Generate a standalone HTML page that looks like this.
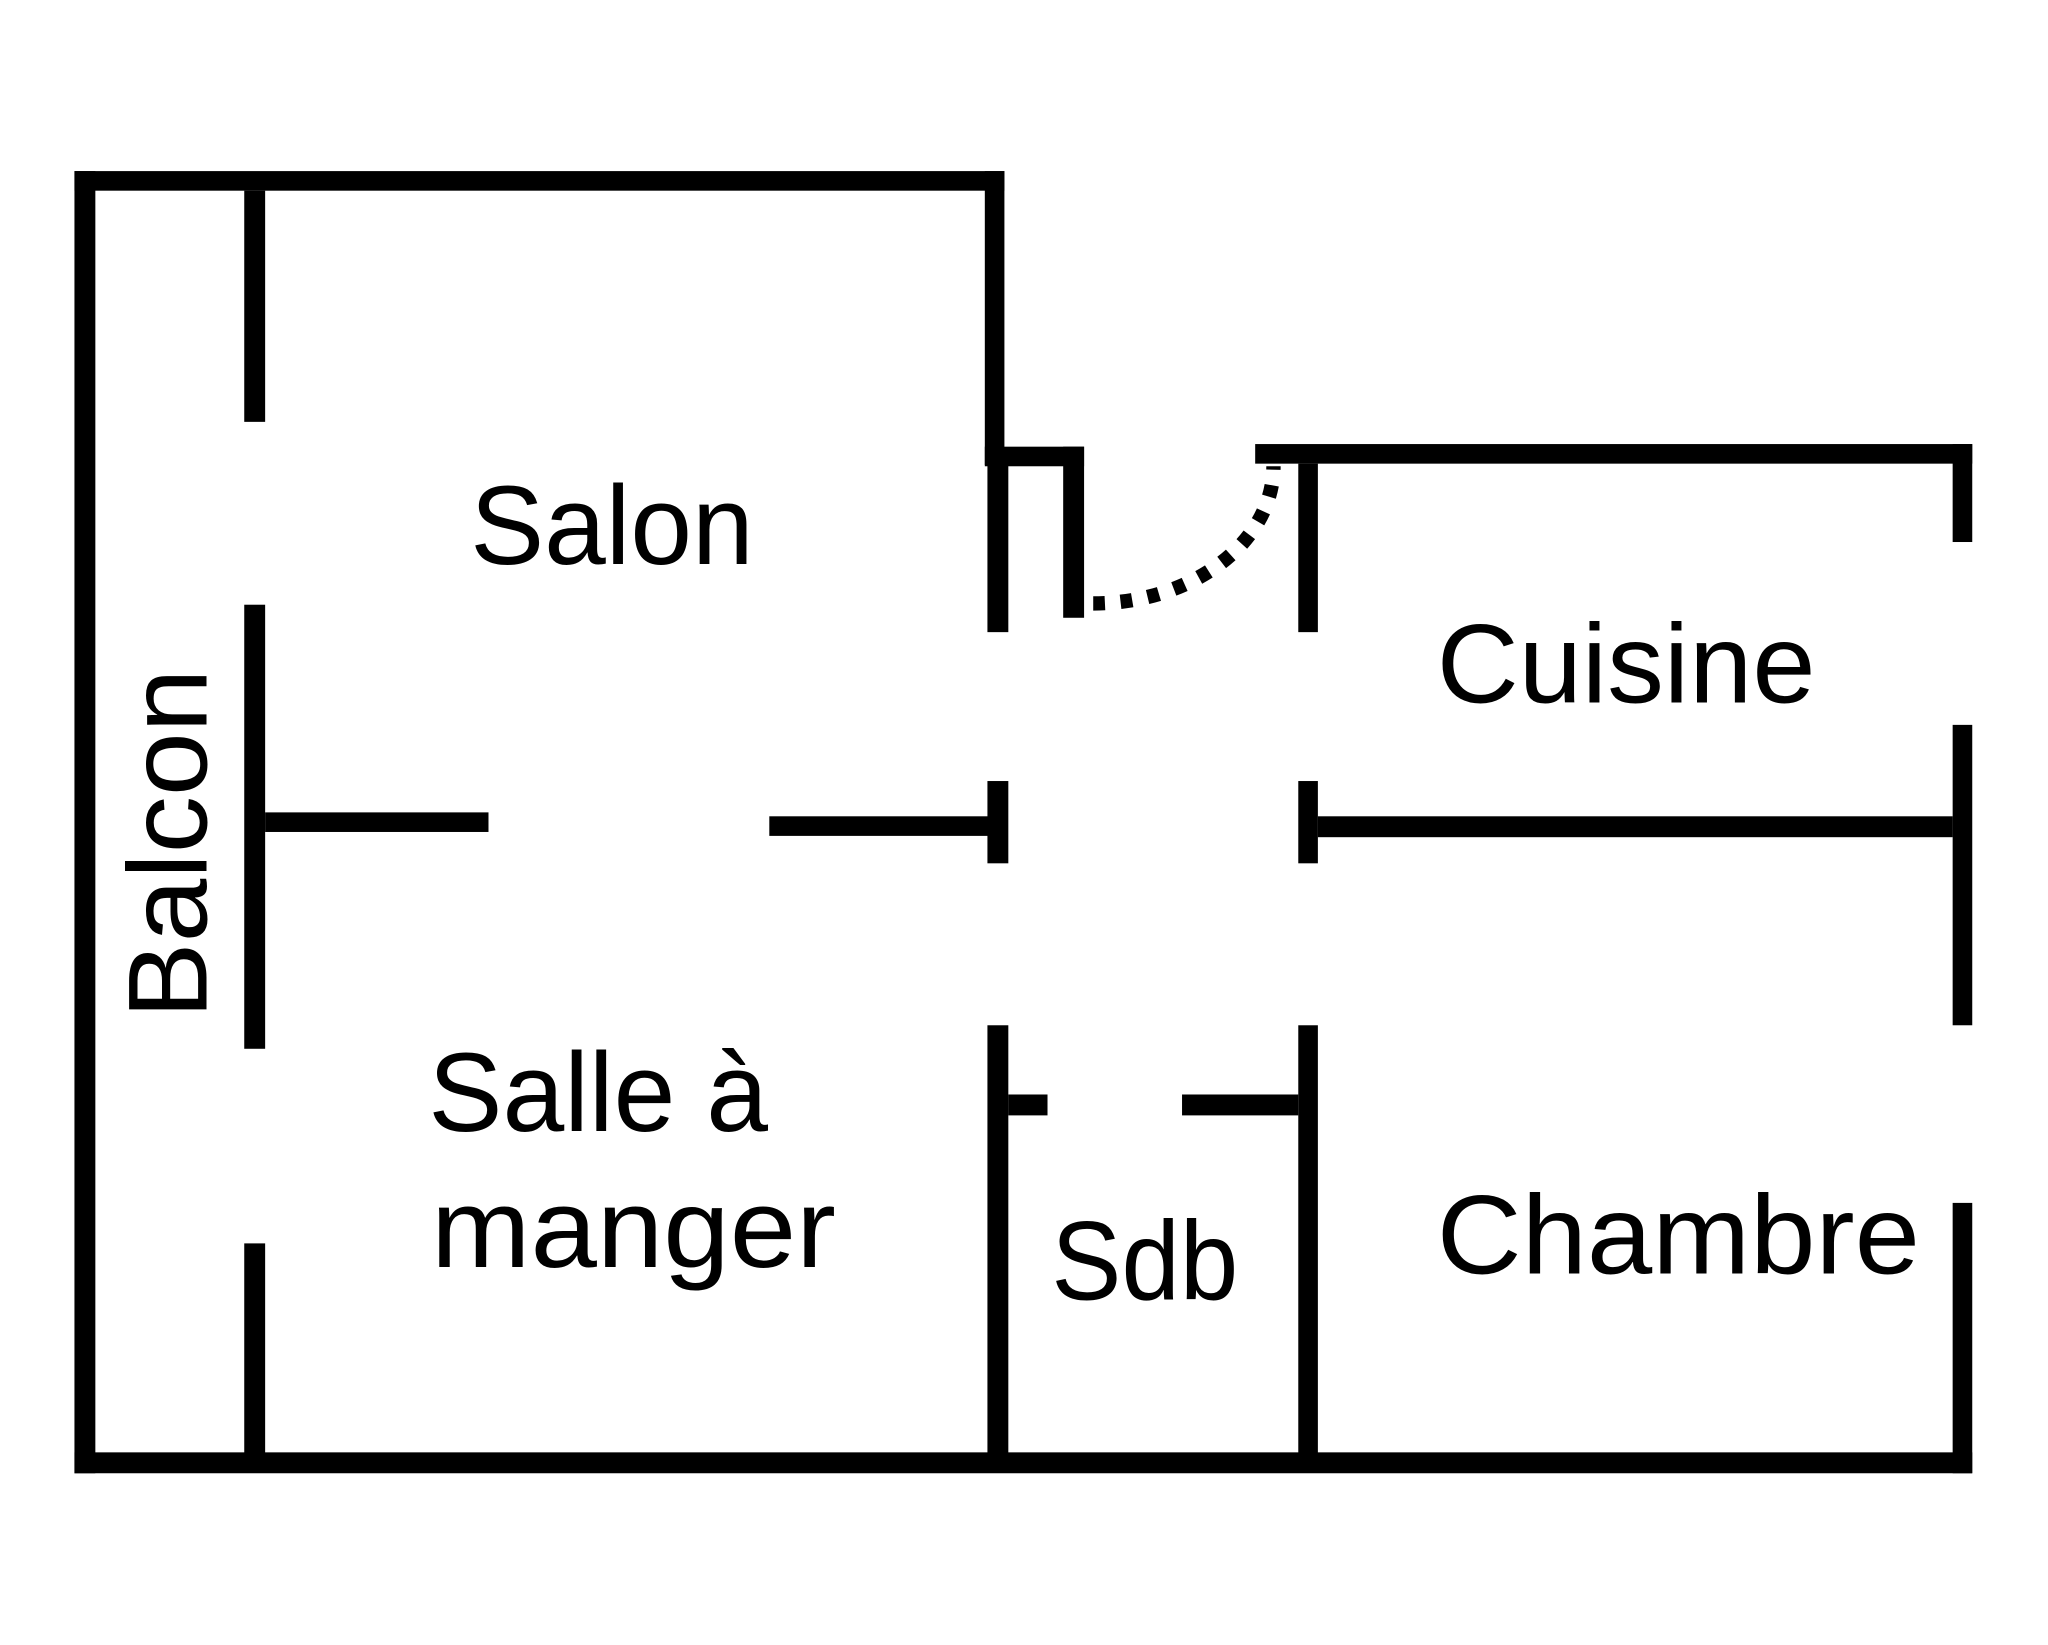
<!DOCTYPE html>
<html><head><meta charset="utf-8"><style>
html,body{margin:0;padding:0;background:#fff;}
svg{display:block;}
text{font-family:"Liberation Sans",sans-serif;font-size:86px;fill:#000;}
</style></head><body>
<svg width="2048" height="1645" viewBox="0 0 1568 1259.5" preserveAspectRatio="none" xmlns="http://www.w3.org/2000/svg">
<g fill="#000">
<!-- outer top salon -->
<rect x="57" y="131" width="712" height="15"/>
<rect x="57" y="131" width="16" height="997"/>
<rect x="754" y="131" width="15" height="225"/>
<!-- step -->
<rect x="754" y="342" width="76" height="15"/>
<rect x="814" y="342" width="16" height="131"/>
<rect x="756" y="355" width="16" height="129"/>
<!-- balcon partition -->
<rect x="187" y="146" width="16" height="177"/>
<rect x="187" y="463" width="16" height="340"/>
<rect x="187" y="952" width="16" height="170"/>
<!-- cuisine -->
<rect x="961" y="340" width="549" height="15"/>
<rect x="1495" y="340" width="15" height="75"/>
<rect x="994" y="355" width="15" height="129"/>
<rect x="1495" y="555" width="15" height="230"/>
<!-- middle row -->
<rect x="203" y="622" width="171" height="15"/>
<rect x="589" y="625" width="168" height="15"/>
<rect x="756" y="598" width="16" height="63"/>
<rect x="994" y="598" width="15" height="63"/>
<rect x="1009" y="625" width="486" height="16"/>
<!-- bottom -->
<rect x="57" y="1112" width="1453" height="16"/>
<rect x="1495" y="921" width="15" height="207"/>
<!-- sdb -->
<rect x="756" y="785" width="16" height="330"/>
<rect x="772" y="838" width="30" height="16"/>
<rect x="994" y="785" width="15" height="330"/>
<rect x="905" y="838" width="89" height="16"/>
</g>
<path d="M837,462 A138 105 0 0 0 975,357" fill="none" stroke="#000" stroke-width="11" stroke-dasharray="9 12"/>
<text x="360" y="432" textLength="217" lengthAdjust="spacingAndGlyphs">Salon</text>
<text x="1100" y="538" textLength="290" lengthAdjust="spacingAndGlyphs">Cuisine</text>
<text x="328" y="866" textLength="260" lengthAdjust="spacingAndGlyphs">Salle à</text>
<text x="330" y="970" textLength="310" lengthAdjust="spacingAndGlyphs">manger</text>
<text x="805" y="995" textLength="143" lengthAdjust="spacingAndGlyphs">Sdb</text>
<text x="1100" y="975" textLength="370" lengthAdjust="spacingAndGlyphs">Chambre</text>
<text transform="translate(158,780) rotate(-90)" textLength="268" lengthAdjust="spacingAndGlyphs">Balcon</text>
</svg>
</body></html>
